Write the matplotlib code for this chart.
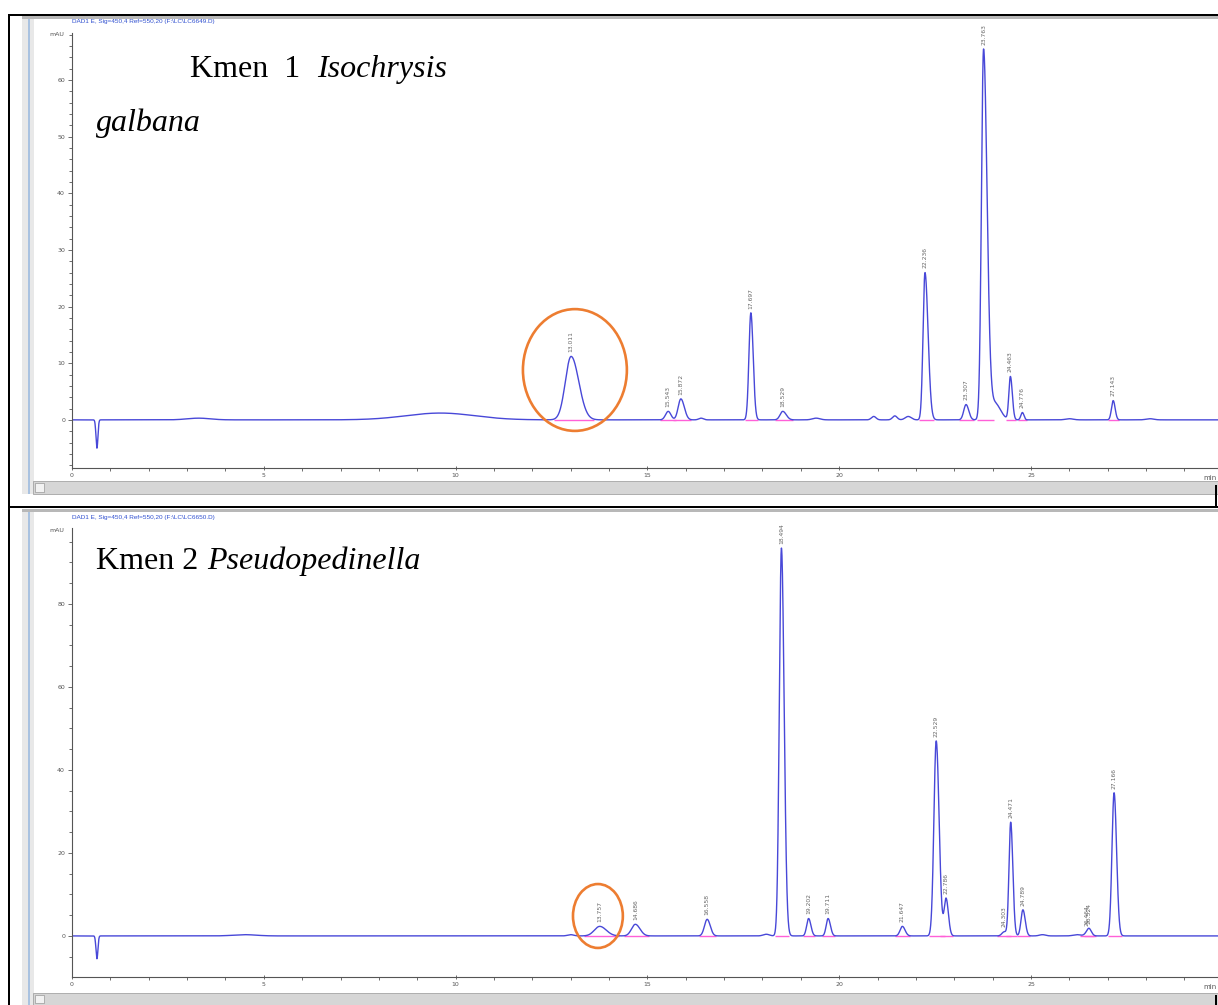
"""Two HPLC chromatograms (DAD1 450 nm) for microalgae strains, Word-table style."""
import numpy as np
import matplotlib.pyplot as plt
from matplotlib.patches import Rectangle, Ellipse

W, H = 1218, 1005
PX_PER_MIN = 38.36

# ---- Kmen 1 Isochrysis galbana: labelled peaks (rt, height mAU, left/right sigma)
K1_RT = [13.011, 15.543, 15.872, 17.697, 18.529, 22.236, 23.307, 23.763, 24.463, 24.776, 27.143]
K1_H = [11.2, 1.5, 3.7, 18.9, 1.5, 26.0, 2.7, 65.0, 7.6, 1.3, 3.4]
K1_SL = [0.15, 0.07, 0.07, 0.05, 0.07, 0.05, 0.06, 0.055, 0.04, 0.04, 0.045]
K1_SR = [0.20, 0.07, 0.09, 0.06, 0.09, 0.08, 0.07, 0.09, 0.05, 0.04, 0.05]
# unlabelled features (injection dip, broad hump, small bumps, tail)
K1_X_RT = [0.65, 3.3, 9.6, 16.4, 19.4, 20.9, 21.45, 21.8, 24.05, 26.0, 28.1]
K1_X_H = [-5.0, 0.3, 1.2, 0.3, 0.3, 0.6, 0.7, 0.6, 3.0, 0.2, 0.2]
K1_X_S = [0.025, 0.3, 0.9, 0.06, 0.1, 0.06, 0.06, 0.08, 0.15, 0.1, 0.1]

# ---- Kmen 2 Pseudopedinella
K2_RT = [13.757, 14.686, 16.558, 18.494, 19.202, 19.711, 21.647, 22.529, 22.786,
         24.303, 24.471, 24.789, 26.464, 26.524, 27.166]
K2_H = [2.3, 2.8, 4.0, 93.5, 4.2, 4.2, 2.3, 47.0, 9.0, 1.0, 27.4, 6.3, 0.8, 1.3, 34.5]
K2_SL = [0.14, 0.10, 0.07, 0.055, 0.05, 0.05, 0.06, 0.06, 0.05,
         0.06, 0.045, 0.05, 0.06, 0.05, 0.055]
K2_SR = [0.17, 0.12, 0.08, 0.07, 0.06, 0.06, 0.07, 0.075, 0.06,
         0.06, 0.055, 0.06, 0.06, 0.06, 0.065]
K2_X_RT = [0.65, 4.5, 13.0, 18.1, 25.3, 26.2]
K2_X_H = [-5.5, 0.3, 0.3, 0.4, 0.3, 0.3]
K2_X_S = [0.025, 0.3, 0.08, 0.08, 0.08, 0.1]

C_LINE = "#4848d8"
C_BASE = "#ff60d8"
C_AX = "#555555"
C_CIRC = "#ED7D31"


def px(x0, y0, x1, y1):
    return (x0 / W, 1 - y1 / H, (x1 - x0) / W, (y1 - y0) / H)


def box_patch(fig, r, **kw):
    x, y, w, h = px(*r)
    fig.add_artist(Rectangle((x, y), w, h, transform=fig.transFigure, **kw))


def signal(t, rt, hh, sl, sr):
    y = np.zeros_like(t)
    for c, a, l, r in zip(rt, hh, sl, sr):
        s = np.where(t < c, l, r)
        y += a * np.exp(-0.5 * ((t - c) / s) ** 2)
    return y


def draw_panel(fig, box, ylim, ymaj, ymin, rt, hh, sl, sr, xrt, xh, xs, src, ell):
    ax = fig.add_axes(px(*box))
    xmax = (box[2] - box[0]) / PX_PER_MIN
    t = np.arange(0, xmax, 0.004)
    y = signal(t, rt, hh, sl, sr) + signal(t, xrt, xh, xs, xs)

    for c, l, r in zip(rt, sl, sr):
        ax.hlines(0, c - 3 * l, c + 3 * r, color=C_BASE, lw=1.0, zorder=1)
    ax.plot(t, y, color=C_LINE, lw=1.0, zorder=2)

    for c in rt:
        ya = np.interp(c, t, y)
        ax.annotate(f"{c:.3f}", (c, ya), xytext=(0, 3), textcoords="offset points",
                    rotation=90, ha="center", va="bottom", fontsize=4.3, color="#666666")

    ex, ey, ew, eh = ell
    ax.add_patch(Ellipse((ex, ey), ew, eh, fill=False, ec=C_CIRC, lw=1.9,
                         zorder=3, clip_on=False))

    ax.set_xlim(0, xmax)
    ax.set_ylim(*ylim)
    ax.set_xticks(np.arange(0, 30, 5))
    ax.set_xticks(np.arange(0, 30, 1), minor=True)
    ax.set_yticks(np.arange(0, ylim[1], ymaj))
    ax.set_yticks(np.arange(-ymin * (-ylim[0] // ymin), ylim[1], ymin), minor=True)
    for s in ["top", "right"]:
        ax.spines[s].set_visible(False)
    for s in ["left", "bottom"]:
        ax.spines[s].set_color(C_AX)
        ax.spines[s].set_linewidth(0.8)
    ax.tick_params(axis="both", colors=C_AX, labelsize=4.5, length=3, width=0.6, pad=2)
    ax.tick_params(axis="both", which="minor", colors=C_AX, length=2, width=0.6)
    ax.tick_params(axis="x", direction="inout")
    ax.patch.set_alpha(0)

    # header, units, min label
    fig.text(box[0] / W, 1 - (box[1] - 11) / H, f"DAD1 E, Sig=450,4 Ref=550,20 {src}",
             fontsize=4.6, color="#3050d0", family="Liberation Sans", va="center")
    fig.text((box[0] - 8) / W, 1 - (box[1] + 2) / H, "mAU", fontsize=4.5,
             color=C_AX, ha="right", va="center")
    fig.text(1217 / W, 1 - (box[3] + 10) / H, "min", fontsize=5, color=C_AX,
             ha="right", va="center")
    return ax


fig = plt.figure(figsize=(W / 100, H / 100), dpi=100, facecolor="white")

# window chrome / Word table borders
for (y0, y1) in [(16, 494), (509, 1005)]:
    box_patch(fig, (22, y0, 34, y1), fc="#e8e8e8", ec="none")
    box_patch(fig, (28, y0, 30, y1), fc="#a9c2e0", ec="none")
    box_patch(fig, (22, y0, W, y0 + 3), fc="#b8b8b8", ec="none")
for (y0, y1) in [(481, 494), (993, 1005)]:
    box_patch(fig, (33, y0, W, y1), fc="#d6d6d6", ec="#a4a4a4", lw=0.6)
    box_patch(fig, (35, y0 + 2, 44, y1 - 2), fc="#f2f2f2", ec="#999999", lw=0.5)
for r in [(8, 14, W, 16), (8, 14, 10, H), (8, 506, W, 508), (1215, 485, 1217, 508),
          (1215, 995, 1217, H)]:
    box_patch(fig, r, fc="black", ec="none")

draw_panel(fig, (72, 33, W, 468), (-8.5, 68.3), 10, 2,
           K1_RT, K1_H, K1_SL, K1_SR, K1_X_RT, K1_X_H, K1_X_S,
           r"(F:\LC\LC6649.D)", (13.11, 8.8, 2.71, 21.5))
draw_panel(fig, (72, 528, W, 977), (-9.9, 98.3), 20, 5,
           K2_RT, K2_H, K2_SL, K2_SR, K2_X_RT, K2_X_H, K2_X_S,
           r"(F:\LC\LC6650.D)", (13.71, 4.8, 1.30, 15.4))

serif = dict(family="Liberation Serif", fontsize=23, va="baseline", color="black")
fig.text(190 / W, 1 - 77 / H, "Kmen  1", **serif)
fig.text(317 / W, 1 - 77 / H, "Isochrysis", style="italic", **serif)
fig.text(96 / W, 1 - 131 / H, "galbana", style="italic", **serif)
fig.text(96 / W, 1 - 569 / H, "Kmen 2", **serif)
fig.text(207 / W, 1 - 569 / H, "Pseudopedinella", style="italic", **serif)

fig.savefig("out.png", dpi=100, facecolor="white")
